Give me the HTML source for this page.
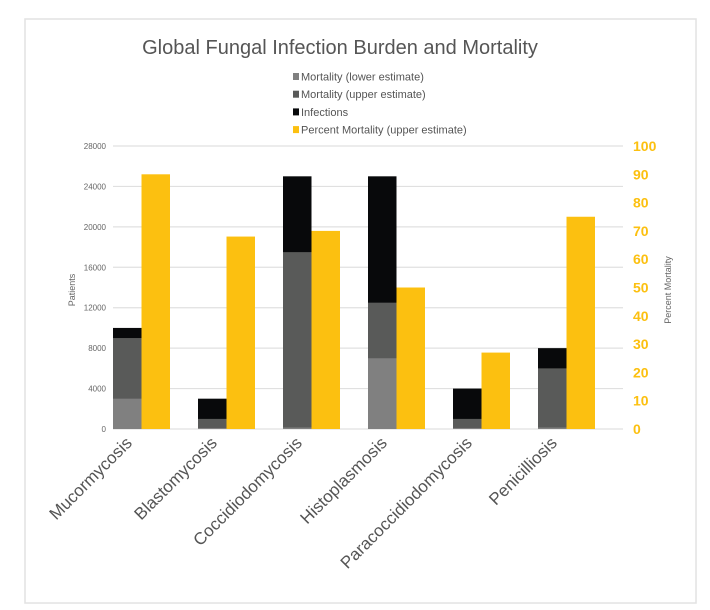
<!DOCTYPE html>
<html><head><meta charset="utf-8"><style>
body{margin:0;background:#fff;}
svg{display:block;font-family:"Liberation Sans",sans-serif;}
</style></head><body>
<svg id="chart" width="710" height="610">
<rect x="25" y="19" width="671" height="584" fill="#fff" stroke="#e2e2e2" stroke-width="1.5"/>
<text x="340" y="54" font-size="20" fill="#555" text-anchor="middle">Global Fungal Infection Burden and Mortality</text>
<g id="legend"></g>
<g id="grid"></g><g id="bars"></g><g id="axes"></g>
<text transform="translate(75,290) rotate(-90)" font-size="9" fill="#666" text-anchor="middle">Patients</text>
<text transform="translate(671,290) rotate(-90)" font-size="9" fill="#666" text-anchor="middle">Percent Mortality</text>
</svg>
<script>
const categories=["Mucormycosis","Blastomycosis","Coccidiodomycosis","Histoplasmosis","Paracoccidiodomycosis","Penicilliosis"];
const mortLower=[3000,100,150,7000,100,150];
const mortUpper=[9000,1000,17500,12500,1000,6000];
const infections=[10000,3000,25000,25000,4000,8000];
const pctMortality=[90,68,70,50,27,75];
const leftTicks=[0,4000,8000,12000,16000,20000,24000,28000];
const rightTicks=[0,10,20,30,40,50,60,70,80,90,100];
const legendLabels=["Mortality (lower estimate)","Mortality (upper estimate)","Infections","Percent Mortality (upper estimate)"];
const legendColors=["#808080","#595a59","#08090b","#fcc010"];

const NS="http://www.w3.org/2000/svg";
const X0=113,X1=623,Y0=429,Y1=146,catW=85,barW=28.5;
const yL=v=>Y0-(v/28000)*(Y0-Y1);
const yR=v=>Y0-(v/100)*(Y0-Y1);
const xC=i=>X0+i*catW;
function mk(tag,attrs,parent){const e=document.createElementNS(NS,tag);for(const k in attrs)e.setAttribute(k,attrs[k]);parent.appendChild(e);return e;}
const grid=document.getElementById('grid'),bars=document.getElementById('bars'),axes=document.getElementById('axes'),legend=document.getElementById('legend');
leftTicks.forEach(t=>{
  const l=mk('line',{x1:X0,x2:X1,y1:yL(t),y2:yL(t),stroke:'#e0e0e0','stroke-width':1.2},grid);
  
  
  const tx=mk('text',{x:106,y:yL(t)+3,'font-size':8,fill:'#666','text-anchor':'end'},axes);
  tx.textContent=t;
  
  
});
rightTicks.forEach(t=>{
  const tx=mk('text',{x:633,y:yR(t)+5,'font-size':14,'font-weight':'bold',fill:'#fcc010'},axes);
  tx.textContent=t;
  
  
});
categories.forEach((c,i)=>{
  const x=xC(i);
  [[infections,'#08090b','bar-infections'],[mortUpper,'#595a59','bar-mortality-upper'],[mortLower,'#808080','bar-mortality-lower']].forEach(([arr,col,nm])=>{
    const r=mk('rect',{x:x,y:yL(arr[i]),width:barW,height:Y0-yL(arr[i]),fill:col},bars);
    
    
  });
  const p=mk('rect',{x:x+barW,y:yR(pctMortality[i]),width:barW,height:Y0-yR(pctMortality[i]),fill:'#fcc010'},bars);
  
  
  const cx=x+20,cy=444;
  const tx=mk('text',{x:cx,y:cy,'font-size':17,fill:'#555','text-anchor':'end',transform:`rotate(-45 ${cx} ${cy})`},axes);
  tx.textContent=c;
  
  
});
legendLabels.forEach((lab,i)=>{
  const y=77+i*17.7;
  const r=mk('rect',{x:293,y:y-4,width:6,height:7,fill:legendColors[i]},legend);
  
  
  const t=mk('text',{x:301,y:y+3.5,'font-size':11,fill:'#555'},legend);
  t.textContent=lab;
  
  
});
</script>
</body></html>
